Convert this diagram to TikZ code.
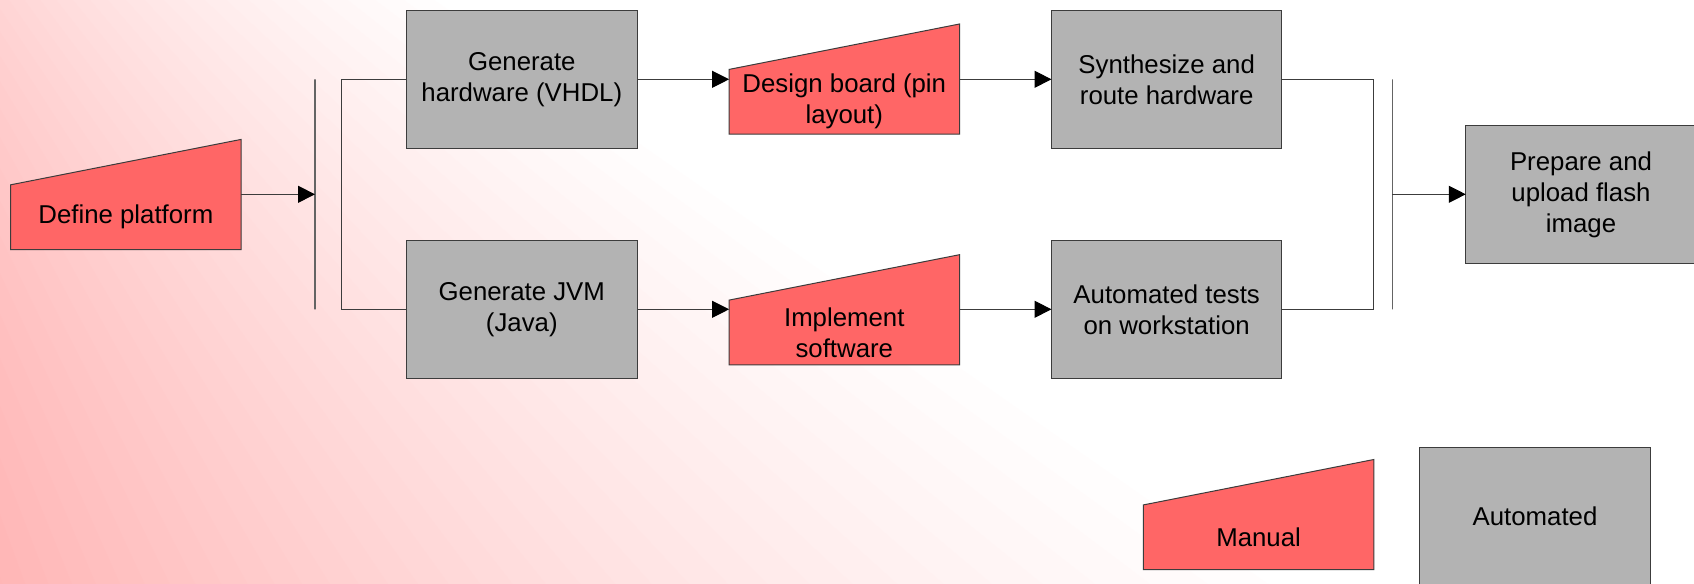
\documentclass[tikz,border=0pt]{standalone}
\usepackage{fontspec}
\setmainfont{Liberation Sans}
\usetikzlibrary{arrows.meta,backgrounds}
\definecolor{manualred}{RGB}{255,102,102}
\definecolor{autogray}{RGB}{179,179,179}
\definecolor{edgegray}{RGB}{60,60,60}
\definecolor{bargray}{RGB}{100,100,100}
\definecolor{bgpink}{RGB}{255,182,182}
\begin{document}
\begin{tikzpicture}[x=0.5pt, y=-0.5pt, >={Triangle[length=8.5pt, width=8.5pt, color=black, fill=black]},
    font=\fontsize{12.9pt}{15.5pt}\selectfont]
    \useasboundingbox (0,0) rectangle (1694,584);

    \tikzstyle{auto step} = [rectangle, draw=edgegray, line width=0.5pt, fill=autogray, inner sep=0pt, outer sep=0pt, minimum width=115.2pt, minimum height=68.9pt, align=center]
    \tikzstyle{manual step} = [rectangle, inner sep=0pt, outer sep=0pt, minimum width=115.2pt, minimum height=32.4pt, align=center]
    \tikzstyle{sync bar} = [rectangle, draw=bargray, line width=0.8pt, inner sep=0pt, outer sep=0pt, minimum width=0pt, minimum height=115pt]
    \tikzstyle{flow} = [->, draw=edgegray, line width=0.5pt]
    \tikzstyle{plain link} = [draw=edgegray, line width=0.5pt]

    % background fade
    \begin{scope}[on background layer]
        \fill[white] (0,0) rectangle (1694,584);
        \clip (0,0) rectangle (1694,584);
        \foreach \a in {34,...,72} {
            \pgfmathsetmacro\p{max(0,min(100,100*(1-(71.1-\a-0.5)/36.5)))}
            \fill[bgpink!\p!white] (-400,-584) -- +(\a:3000) -- +(\a+1.2:3000) -- cycle;
        }
    \end{scope}

    \node[manual step] (defp) at (125.9,217.2) {Define platform};
    \node[auto step] (genhw) at (521.8,79.3) {Generate\\hardware (VHDL)};
    \node[auto step] (genjvm) at (521.8,309.3) {Generate JVM\\(Java)};
    \node[manual step] (dboard) at (844.3,101.8) {Design board (pin\\layout)};
    \node[manual step] (impl) at (844.3,332.5) {Implement\\software};
    \node[auto step] (synth) at (1166.7,79.3) {Synthesize and\\route hardware};
    \node[auto step] (autotest) at (1166.7,309.3) {Automated tests\\on workstation};
    \node[auto step] (prep) at (1581,194.4) {Prepare and\\upload flash\\image};

    \node[sync bar] (split) at (315,194.3) {};
    \node[sync bar] (join) at (1392.3,194.3) {};

    % legend
    \node[manual step] (legman) at (1258.6,537.3) {Manual};
    \node[auto step] (legauto) at (1535,516) {Automated};

    % manual input shapes
    \begin{scope}[on background layer]
        \foreach \n in {defp, dboard, impl, legman}
            \filldraw[fill=manualred, draw=edgegray, line width=0.5pt]
                (\n.south west) -- (\n.north west) -- ([yshift=22.7pt]\n.north east) -- (\n.south east) -- cycle;
    \end{scope}

    \draw[flow] (defp.east |- split.west) -- (split.west);
    \draw[plain link] (genhw.west) -- ++(-64.8,0) |- (genjvm.west);
    \draw[flow] (genhw.east) -- (genhw.east -| dboard.west);
    \draw[flow] (genjvm.east) -- (genjvm.east -| impl.west);
    \draw[flow] (dboard.east |- synth.west) -- (synth.west);
    \draw[flow] (impl.east |- autotest.west) -- (autotest.west);
    \draw[plain link] (synth.east) -- ++(92,0) |- (autotest.east);
    \draw[flow] (join.east) -- (join.east -| prep.west);
\end{tikzpicture}
\end{document}
